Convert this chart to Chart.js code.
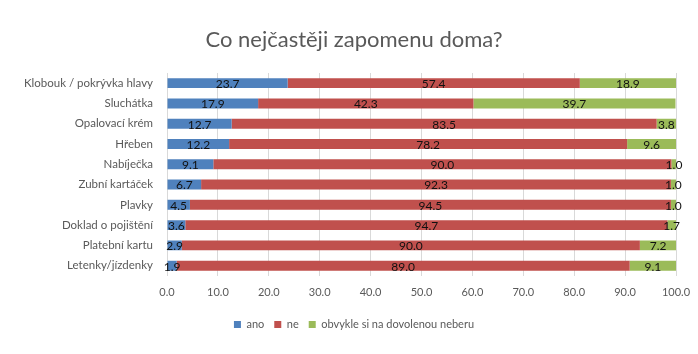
<!DOCTYPE html>
<html>
<head>
<meta charset="utf-8">
<script src="https://cdn.jsdelivr.net/npm/chart.js@4/dist/chart.umd.min.js"></script>
<style>
html,body{margin:0;padding:0;background:#fff;}
#wrap{width:698px;height:354px;position:relative;}
</style>
</head>
<body>
<div id="wrap"><canvas id="c" width="698" height="354"></canvas></div>
<script>
const categories = ["Klobouk / pokrývka hlavy","Sluchátka","Opalovací krém","Hřeben","Nabíječka","Zubní kartáček","Plavky","Doklad o pojištění","Platební kartu","Letenky/jízdenky"];
const seriesNames = ["ano","ne","obvykle si na dovolenou neberu"];
const ano = [23.7,17.9,12.7,12.2,9.1,6.7,4.5,3.6,2.9,1.9];
const ne = [57.4,42.3,83.5,78.2,90.0,92.3,94.5,94.7,90.0,89.0];
const obvykle = [18.9,39.7,3.8,9.6,1.0,1.0,1.0,1.7,7.2,9.1];
const titleText = "Co nejčastěji zapomenu doma?";

const FONT = "Lato, 'Open Sans', sans-serif";

const labelPlugin = {
  id: 'segLabels',
  afterDatasetsDraw(chart) {
    const ctx = chart.ctx;
    ctx.save();
    ctx.font = "12px " + FONT;
    ctx.fillStyle = "#111";
    ctx.textAlign = "center";
    ctx.textBaseline = "middle";
    chart.data.datasets.forEach((ds, di) => {
      const meta = chart.getDatasetMeta(di);
      meta.data.forEach((el, i) => {
        const v = ds.data[i];
        const cx = (el.x + el.base) / 2;
        ctx.fillText(v.toFixed(1), cx, el.y + 1);
      });
    });
    ctx.restore();
  }
};

// shift title and legend horizontally to match the reference centring
const shiftPlugin = {
  id: 'shiftBoxes',
  afterLayout(chart) {
    const dx = 16;
    [chart.titleBlock, chart.legend].forEach(b => {
      if (b) { b.left += dx; b.right += dx; }
    });
  }
};

new Chart(document.getElementById('c'), {
  type: 'bar',
  data: {
    labels: categories,
    datasets: [
      {label: seriesNames[0], data: ano, backgroundColor: '#4F81BD'},
      {label: seriesNames[1], data: ne, backgroundColor: '#C0504D'},
      {label: seriesNames[2], data: obvykle, backgroundColor: '#9BBB59'}
    ]
  },
  options: {
    indexAxis: 'y',
    responsive: false,
    animation: false,
    devicePixelRatio: 1,
    layout: {padding: {left: 0, right: 22, top: 0, bottom: 14}},
    datasets: {bar: {categoryPercentage: 1.0, barPercentage: 0.49}},
    scales: {
      x: {
        stacked: true, min: 0, max: 100,
        ticks: {stepSize: 10, callback: v => Number(v).toFixed(1), color: '#595959', font: {family: FONT, size: 11}, padding: 10},
        grid: {color: '#d9d9d9', drawTicks: false},
        border: {display: false},
        afterFit(scale) { scale.paddingRight = 0; scale.paddingLeft = 0; }
      },
      y: {
        stacked: true,
        ticks: {color: '#595959', font: {family: FONT, size: 11.5}, padding: 6},
        grid: {display: false},
        border: {display: true, color: '#d9d9d9'},
        afterFit(scale) { scale.width = 167; }
      }
    },
    plugins: {
      title: {display: true, text: titleText, color: '#595959', font: {family: FONT, size: 22, weight: 'normal'}, padding: {top: 27, bottom: 19.6}},
      legend: {position: 'bottom', labels: {color: '#595959', font: {family: FONT, size: 11}, boxWidth: 7, boxHeight: 7, padding: 10}},
      tooltip: {enabled: false}
    }
  },
  plugins: [labelPlugin, shiftPlugin]
});
</script>
</body>
</html>
